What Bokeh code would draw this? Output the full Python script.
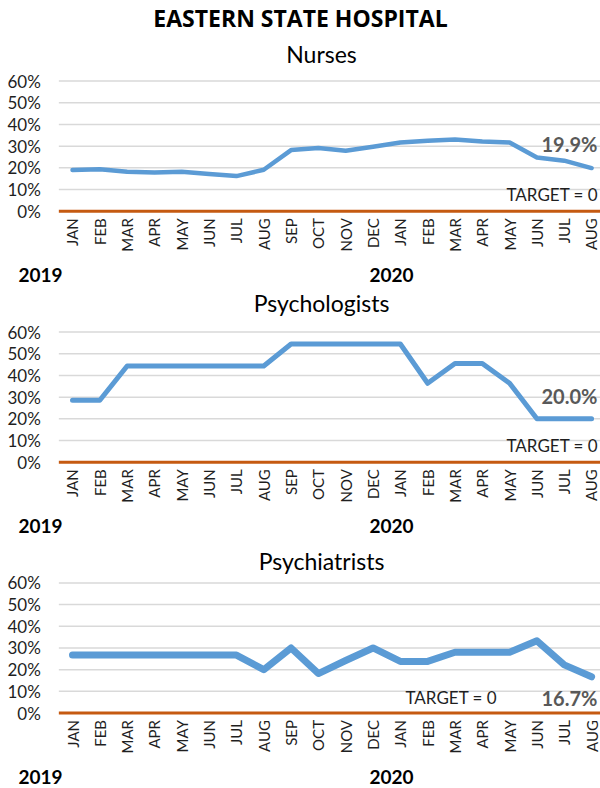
import numpy as np
from bokeh.plotting import figure
from bokeh.models import Label, FixedTicker, PrintfTickFormatter, Range1d
from bokeh.layouts import column
from bokeh.embed import file_html
from bokeh.resources import INLINE

# ---------------- data ----------------
TITLE = "EASTERN STATE HOSPITAL"
MONTHS = ["JAN", "FEB", "MAR", "APR", "MAY", "JUN", "JUL", "AUG", "SEP", "OCT",
          "NOV", "DEC", "JAN", "FEB", "MAR", "APR", "MAY", "JUN", "JUL", "AUG"]
YEARS = ["2019", "2020"]
PANELS = ["Nurses", "Psychologists", "Psychiatrists"]
NURSES = [19.0, 19.4, 18.2, 17.9, 18.2, 17.2, 16.2, 19.1, 28.2, 29.1,
          27.9, 29.7, 31.7, 32.5, 33.1, 32.2, 31.7, 24.8, 23.3, 19.9]
PSYCHOLOGISTS = [28.6, 28.6, 44.4, 44.4, 44.4, 44.4, 44.4, 44.4, 54.5, 54.5,
                 54.5, 54.5, 54.5, 36.4, 45.5, 45.5, 36.4, 20.0, 20.0, 20.0]
PSYCHIATRISTS = [26.7, 26.7, 26.7, 26.7, 26.7, 26.7, 26.7, 20.0, 30.0, 18.2,
                 24.2, 30.0, 23.8, 23.8, 28.0, 28.0, 28.0, 33.3, 22.2, 16.7]
TARGET = 0
Y_TICKS = [0, 10, 20, 30, 40, 50, 60]

# ---------------- style ----------------
FONT = "Lato"
TITLE_FONT = "Open Sans"
BLUE = "#5B9BD5"
ORANGE = "#C55A11"
GRID = "#D9D9D9"
TXT = "#1f1f1f"
VAL = "#595959"

W = 600
PX_X = 27.32      # pixels per month
X0_PX = 72        # pixel of first month
PX_Y = 2.168      # pixels per percentage point
BASE_K = 0.45     # baseline correction (fraction of font size)

X_IDX = list(range(len(MONTHS)))
X_START = -X0_PX / PX_X
X_END = (W - X0_PX) / PX_X
PLOT_LEFT = -0.5


def make_panel(name, vals, lw, top, height, zero_px, sub_base, tgt_left, tgt_base,
               val_left, val_base, year_base, main_title=False):
    zl = zero_px - top                    # zero line, local pixels from figure top
    y_end = zl / PX_Y
    y_start = -(height - zl) / PX_Y

    def dx(px):
        return (px - X0_PX) / PX_X

    def dy(py, fs):
        return (zero_px - (py - BASE_K * fs)) / PX_Y

    p = figure(width=W, height=height, output_backend="svg", toolbar_location=None,
               x_range=Range1d(X_START, X_END), y_range=Range1d(y_start, y_end),
               min_border=0, min_border_left=0, min_border_right=0,
               min_border_top=0, min_border_bottom=0)
    p.outline_line_color = None
    p.background_fill_color = "white"
    p.border_fill_color = "white"
    p.xgrid.grid_line_color = None
    p.ygrid.grid_line_color = None

    # x axis placed on the zero line
    xa = p.xaxis[0]
    xa.fixed_location = 0
    xa.ticker = FixedTicker(ticks=X_IDX)
    xa.major_label_overrides = {i: m for i, m in enumerate(MONTHS)}
    xa.major_label_orientation = np.pi / 2
    xa.axis_line_color = None
    xa.major_tick_line_color = None
    xa.minor_tick_line_color = None
    xa.major_tick_out = 0
    xa.major_tick_in = 0
    xa.major_label_standoff = 7
    xa.major_label_text_font = FONT
    xa.major_label_text_font_size = "15px"
    xa.major_label_text_color = TXT

    ya = p.yaxis[0]
    ya.fixed_location = PLOT_LEFT
    ya.ticker = FixedTicker(ticks=Y_TICKS)
    ya.formatter = PrintfTickFormatter(format="%d%%")
    ya.axis_line_color = None
    ya.major_tick_line_color = None
    ya.minor_tick_line_color = None
    ya.major_tick_out = 0
    ya.major_tick_in = 0
    ya.major_label_standoff = 18
    ya.major_label_text_font = FONT
    ya.major_label_text_font_size = "17px"
    ya.major_label_text_color = TXT

    # horizontal gridlines at the tick values
    gy = [t for t in Y_TICKS if t != TARGET]
    p.segment(x0=[PLOT_LEFT] * len(gy), y0=gy, x1=[X_END] * len(gy), y1=gy,
              line_color=GRID, line_width=1.5)

    # target line
    p.segment(x0=[PLOT_LEFT], y0=[TARGET], x1=[X_END], y1=[TARGET],
              line_color=ORANGE, line_width=3)

    # series
    p.line(X_IDX, vals, line_color=BLUE, line_width=lw, line_cap="round", line_join="round")

    # texts
    if main_title:
        p.add_layout(Label(x=dx(300), y=dy(28, 23), text=TITLE, text_align="center",
                           text_baseline="alphabetic", text_font=TITLE_FONT,
                           text_font_style="bold", text_font_size="23px",
                           text_color="black"))
    p.add_layout(Label(x=dx(321), y=dy(sub_base, 23), text=name, text_align="center",
                       text_baseline="alphabetic", text_font=FONT,
                       text_font_size="23px", text_color="black"))
    p.add_layout(Label(x=dx(tgt_left), y=dy(tgt_base, 17), text=f"TARGET = {TARGET}",
                       text_align="left", text_baseline="alphabetic", text_font=FONT,
                       text_font_size="17px", text_color=TXT))
    p.add_layout(Label(x=dx(val_left), y=dy(val_base, 20), text=f"{vals[-1]:.1f}%",
                       text_align="left", text_baseline="alphabetic", text_font=FONT,
                       text_font_style="bold", text_font_size="20px", text_color=VAL))
    for yr, xx in zip(YEARS, [18, 369]):
        p.add_layout(Label(x=dx(xx), y=dy(year_base, 19), text=yr, text_align="left",
                           text_baseline="alphabetic", text_font=FONT,
                           text_font_style="bold", text_font_size="19px",
                           text_color="black"))
    return p


p1 = make_panel(PANELS[0], NURSES, 4.5, 0, 290, 210.7, 64, 506, 201.5, 541, 152.3, 283.3,
                main_title=True)
p2 = make_panel(PANELS[1], PSYCHOLOGISTS, 5, 290, 251, 461.7, 312.4, 506, 452.5, 541, 404,
                534.3)
p3 = make_panel(PANELS[2], PSYCHIATRISTS, 7, 541, 247, 712.5, 570.7, 405, 705, 541, 706.7,
                785)

layout = column(p1, p2, p3, spacing=0)
open("out.html", "w").write(file_html(layout, INLINE))
